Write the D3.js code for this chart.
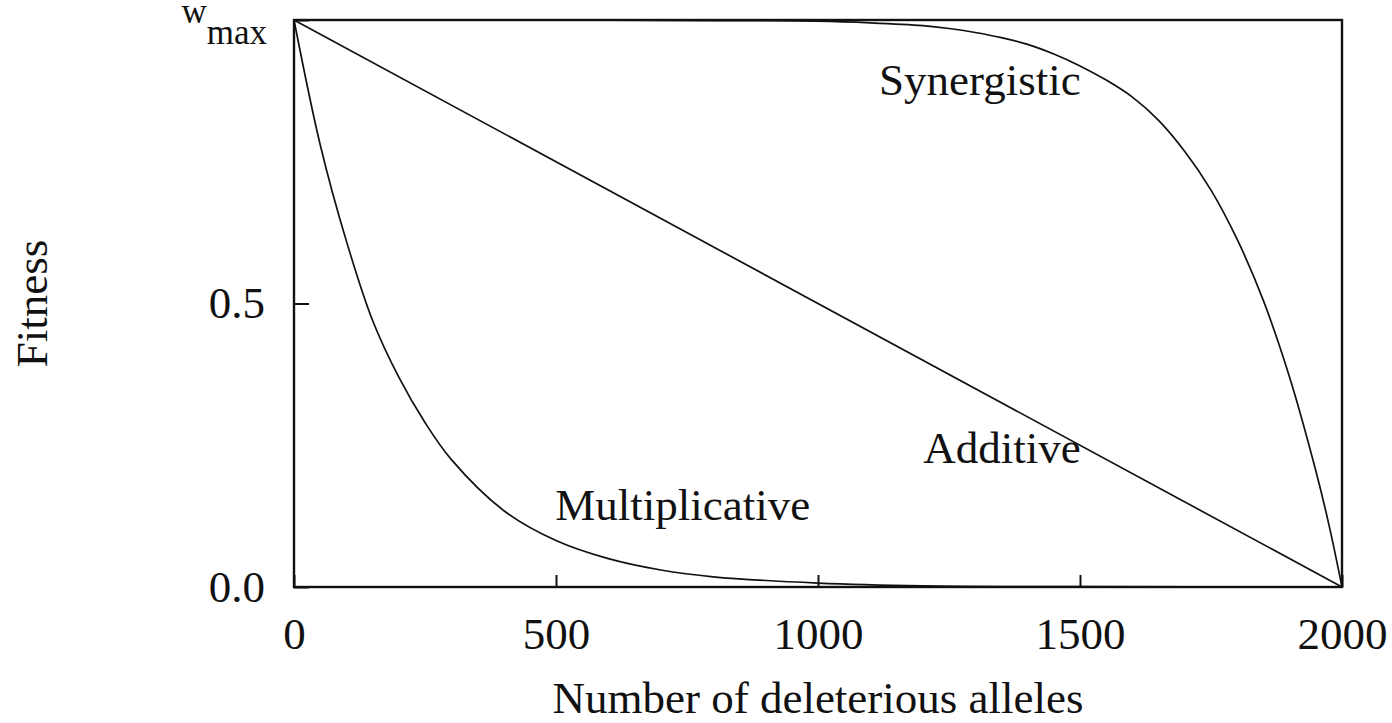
<!DOCTYPE html>
<html><head><meta charset="utf-8">
<script src="https://cdn.jsdelivr.net/npm/d3@7"></script>
<style>body{margin:0;background:#fff}svg{display:block}text{font-family:"Liberation Serif","Times New Roman",serif;fill:#111}</style>
</head><body>
<script>
const xTicks = [0, 500, 1000, 1500, 2000];
const yTicks = [0, 0.5, 1];
const yTickLabels = ["0.0", "0.5", "w"];
const additiveX = [0, 2000];
const additiveY = [1, 0];
const multX = [0, 50, 100, 150, 200, 250, 300, 400, 500, 600, 700, 800, 1000, 1200, 1500, 2000];
const multY = [1, 0.78, 0.61, 0.47, 0.37, 0.29, 0.225, 0.135, 0.082, 0.05, 0.03, 0.018, 0.007, 0.002, 0.0005, 0];
const synX = [0, 500, 800, 1000, 1100, 1200, 1250, 1300, 1350, 1400, 1450, 1500, 1550, 1600, 1650, 1700, 1750, 1800, 1850, 1900, 1950, 1975, 2000];
const synY = [1, 1, 0.999, 0.998, 0.995, 0.99, 0.985, 0.978, 0.969, 0.957, 0.94, 0.919, 0.894, 0.864, 0.823, 0.768, 0.70, 0.613, 0.505, 0.37, 0.205, 0.11, 0];
const seriesLabels = [
  {text: "Synergistic", x: 1309, y: 0.868},
  {text: "Additive", x: 1351, y: 0.219},
  {text: "Multiplicative", x: 742, y: 0.118}
];

const W = 1392, H = 723;
const m = {left: 294, right: 1342, top: 20, bottom: 587};
const FS = 45;
const svg = d3.select("body").append("svg").attr("width", W).attr("height", H);
const x = d3.scaleLinear().domain([0, 2000]).range([m.left, m.right]);
const y = d3.scaleLinear().domain([0, 1]).range([m.bottom, m.top]);

const line = d3.line().x(d => x(d[0])).y(d => y(d[1])).curve(d3.curveCatmullRom.alpha(0.5));
const series = [d3.zip(additiveX, additiveY), d3.zip(multX, multY), d3.zip(synX, synY)];
svg.append("g").selectAll("path").data(series).join("path")
  .attr("d", line).attr("fill", "none").attr("stroke", "#111").attr("stroke-width", 1.7);

// frame
svg.append("rect").attr("x", m.left).attr("y", m.top)
  .attr("width", m.right - m.left).attr("height", m.bottom - m.top)
  .attr("fill", "none").attr("stroke", "#111").attr("stroke-width", 2.4);

// x axis
const xAxis = svg.append("g").attr("transform", `translate(0,${m.bottom})`)
  .call(d3.axisBottom(x).tickValues(xTicks).tickSizeInner(-12).tickSizeOuter(0).tickPadding(30).tickFormat(d3.format("d")));
xAxis.select(".domain").remove();
xAxis.selectAll("line").attr("stroke", "#111").attr("stroke-width", 2);
xAxis.selectAll("text").attr("font-size", FS).attr("fill", "#111").attr("font-family", "Liberation Serif");

// y axis
const yAxis = svg.append("g").attr("transform", `translate(${m.left},0)`)
  .call(d3.axisLeft(y).tickValues(yTicks).tickSizeInner(-15).tickSizeOuter(0).tickPadding(29)
    .tickFormat((d, i) => yTickLabels[i]));
yAxis.select(".domain").remove();
yAxis.selectAll("line").attr("stroke", "#111").attr("stroke-width", 2);
yAxis.selectAll("text").attr("font-size", FS).attr("fill", "#111").attr("font-family", "Liberation Serif");
// w_max label with subscript
const wt = yAxis.selectAll(".tick").filter(d => d === 1).select("text");
wt.text(null).attr("dy", 0).attr("y", 22 - y(1)).attr("x", -27).attr("text-anchor", "end");
wt.append("tspan").attr("font-size", 35).text("w");
wt.append("tspan").attr("font-size", 35).attr("dy", 21).text("max");

// series labels
svg.append("g").selectAll("text").data(seriesLabels).join("text")
  .attr("x", d => x(d.x)).attr("y", d => y(d.y)).attr("text-anchor", "middle")
  .attr("font-size", FS).text(d => d.text);

// axis titles
svg.append("text").attr("x", x(1000)).attr("y", 713).attr("text-anchor", "middle")
  .attr("font-size", FS).text("Number of deleterious alleles");
svg.append("text").attr("transform", `translate(47,${y(0.5)}) rotate(-90)`)
  .attr("text-anchor", "middle").attr("font-size", FS).text("Fitness");
</script>
</body></html>
